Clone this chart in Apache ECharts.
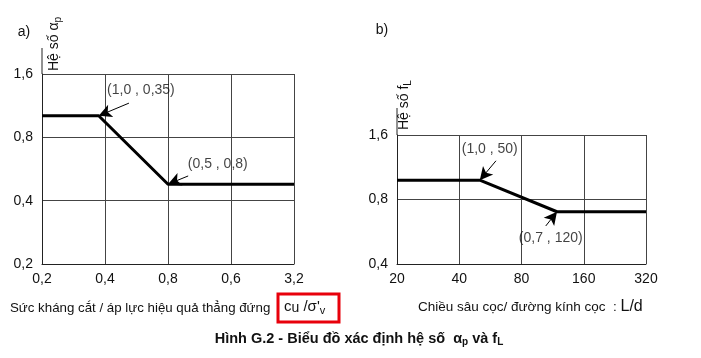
<!DOCTYPE html>
<html>
<head>
<meta charset="utf-8">
<script src="https://cdn.jsdelivr.net/npm/echarts@6/dist/echarts.min.js"></script>
<style>
html,body{margin:0;padding:0;background:#fff;}
#c{width:701px;height:358px;}
</style>
</head>
<body>
<div id="c"></div>
<script>
// ---- Panel a) ----
const xLabelsA = ['0,2', '0,4', '0,8', '0,6', '3,2'];
const yLabelsA = ['0,2', '0,4', '0,8', '1,6'];
const lineAX = [0, 0.9, 2.0, 4];
const lineAY = [2.34, 2.34, 1.26, 1.26];
const annotA = ['(1,0 , 0,35)', '(0,5 , 0,8)'];
const annotAPos = [[1.57, 2.75], [2.79, 1.58]];
const arrowAFrom = [[1.38, 2.54], [2.32, 1.39]];
const arrowATo = [[0.9, 2.34], [2.0, 1.26]];

// ---- Panel b) ----
const xLabelsB = ['20', '40', '80', '160', '320'];
const yLabelsB = ['0,4', '0,8', '1,6'];
const lineBX = [0, 1.33, 2.57, 4];
const lineBY = [1.30, 1.30, 0.81, 0.81];
const annotB = ['(1,0 , 50)', '(0,7 , 120)'];
const annotBPos = [[1.49, 1.78], [2.47, 0.40]];
const arrowBFrom = [[1.59, 1.60], [2.39, 0.59]];
const arrowBTo = [[1.33, 1.30], [2.57, 0.81]];

const FONT = "'Liberation Sans', Arial, sans-serif";
const chart = echarts.init(document.getElementById('c'), null, {renderer: 'canvas'});

function zip(xs, ys) { return xs.map((x, i) => [x, ys[i]]); }

function xAxisDef(gi, labels) {
  return {
    gridIndex: gi, type: 'value', min: 0, max: labels.length - 1, interval: 1,
    axisLine: {show: true, onZero: false, lineStyle: {color: '#222', width: 1}},
    axisTick: {show: false},
    axisLabel: {formatter: v => labels[v] ?? '', color: '#111', fontSize: 14, fontFamily: FONT, margin: 8},
    splitLine: {show: true, lineStyle: {color: '#444', width: 1}}
  };
}
function yAxisDef(gi, labels) {
  return {
    gridIndex: gi, type: 'value', min: 0, max: labels.length - 1, interval: 1,
    axisLine: {show: true, onZero: false, lineStyle: {color: '#222', width: 1}},
    axisTick: {show: false},
    axisLabel: {formatter: v => labels[v] ?? '', color: '#111', fontSize: 14, fontFamily: FONT, margin: 9},
    splitLine: {show: true, lineStyle: {color: '#444', width: 1}}
  };
}
function arrows(from, to) {
  return from.map((f, i) => [{coord: f}, {coord: to[i]}]);
}
function lineSeries(gi, data, from, to) {
  return {
    type: 'line', xAxisIndex: gi, yAxisIndex: gi, data: data,
    showSymbol: false, symbol: 'none', silent: true, animation: false,
    lineStyle: {color: '#000', width: 3},
    markLine: {
      silent: true, animation: false,
      symbol: ['none', 'arrow'], symbolSize: [10, 13],
      label: {show: false},
      lineStyle: {color: '#000', width: 1, type: 'solid'},
      data: arrows(from, to)
    }
  };
}
function annotSeries(gi, pos, texts) {
  return {
    type: 'scatter', xAxisIndex: gi, yAxisIndex: gi, symbolSize: 0, silent: true, animation: false,
    data: pos.map((p, i) => ({value: p, name: texts[i]})),
    label: {show: true, position: 'inside', formatter: p => p.name, color: '#111', fontSize: 14, fontFamily: FONT}
  };
}

const option = {
  backgroundColor: '#fff',
  animation: false,
  grid: [
    {left: 42, top: 74, width: 252, height: 190, containLabel: false},
    {left: 397, top: 135, width: 249, height: 129, containLabel: false}
  ],
  xAxis: [xAxisDef(0, xLabelsA), xAxisDef(1, xLabelsB)],
  yAxis: [yAxisDef(0, yLabelsA), yAxisDef(1, yLabelsB)],
  series: [
    lineSeries(0, zip(lineAX, lineAY), arrowAFrom, arrowATo),
    lineSeries(1, zip(lineBX, lineBY), arrowBFrom, arrowBTo),
    annotSeries(0, annotAPos, annotA),
    annotSeries(1, annotBPos, annotB)
  ]
};
chart.setOption(option);

// Decorative texts and axis extensions
const topA = chart.convertToPixel({gridIndex: 0}, [0, yLabelsA.length - 1]);
const topB = chart.convertToPixel({gridIndex: 1}, [0, yLabelsB.length - 1]);
const subRich = {
  n: {fontSize: 14, fontFamily: FONT, fill: '#111'},
  s: {fontSize: 10, fontFamily: FONT, fill: '#111', padding: [8, 0, 0, 0]}
};
chart.setOption({
  graphic: [
    {type: 'line', shape: {x1: topA[0], y1: topA[1] - 26, x2: topA[0], y2: topA[1]}, style: {stroke: '#222', lineWidth: 1}},
    {type: 'line', shape: {x1: topB[0], y1: topB[1] - 27, x2: topB[0], y2: topB[1]}, style: {stroke: '#222', lineWidth: 1}},
    {type: 'text', x: 24, y: 32, style: {text: 'a)', font: '14px ' + FONT, fill: '#111', textAlign: 'center', textVerticalAlign: 'middle'}},
    {type: 'text', x: 382, y: 30, style: {text: 'b)', font: '14px ' + FONT, fill: '#111', textAlign: 'center', textVerticalAlign: 'middle'}},
    {type: 'text', x: 54, y: 71, rotation: Math.PI / 2,
     style: {text: '{n|Hệ số α}{s|p}', rich: subRich, textAlign: 'left', textVerticalAlign: 'middle'}},
    {type: 'text', x: 404, y: 130, rotation: Math.PI / 2,
     style: {text: '{n|Hệ số f}{s|L}', rich: subRich, textAlign: 'left', textVerticalAlign: 'middle'}},
    {type: 'text', x: 10, y: 308, style: {text: 'Sức kháng cắt / áp lực hiệu quả thẳng đứng', font: '13.3px ' + FONT, fill: '#111', textAlign: 'left', textVerticalAlign: 'middle'}},
    {type: 'rect', shape: {x: 278, y: 294, width: 61, height: 28}, style: {fill: 'none', stroke: '#e8000b', lineWidth: 3}},
    {type: 'text', x: 284, y: 307,
     style: {text: '{n|c}{m|u}{n| /σ\'}{s|v}', textAlign: 'left', textVerticalAlign: 'middle',
       rich: {n: {fontSize: 15, fontFamily: FONT, fill: '#111'}, m: {fontSize: 14, fontFamily: FONT, fill: '#111', padding: [3, 0, 0, 0]}, s: {fontSize: 11, fontFamily: FONT, fill: '#111', padding: [8, 0, 0, 0]}}}},
    {type: 'text', x: 418, y: 307,
     style: {text: '{n|Chiều sâu cọc/ đường kính cọc  : }{b|L/d}', textAlign: 'left', textVerticalAlign: 'middle',
       rich: {n: {fontSize: 13.5, fontFamily: FONT, fill: '#111'}, b: {fontSize: 16, fontFamily: FONT, fill: '#111'}}}},
    {type: 'text', x: 359, y: 339,
     style: {text: '{n|Hình G.2 - Biểu đồ xác định hệ số  α}{s|p}{n| và f}{s|L}', textAlign: 'center', textVerticalAlign: 'middle',
       rich: {n: {fontSize: 14.5, fontWeight: 'bold', fontFamily: FONT, fill: '#111'}, s: {fontSize: 10, fontWeight: 'bold', fontFamily: FONT, fill: '#111', padding: [6, 0, 0, 0]}}}}
  ]
});
</script>
</body>
</html>
